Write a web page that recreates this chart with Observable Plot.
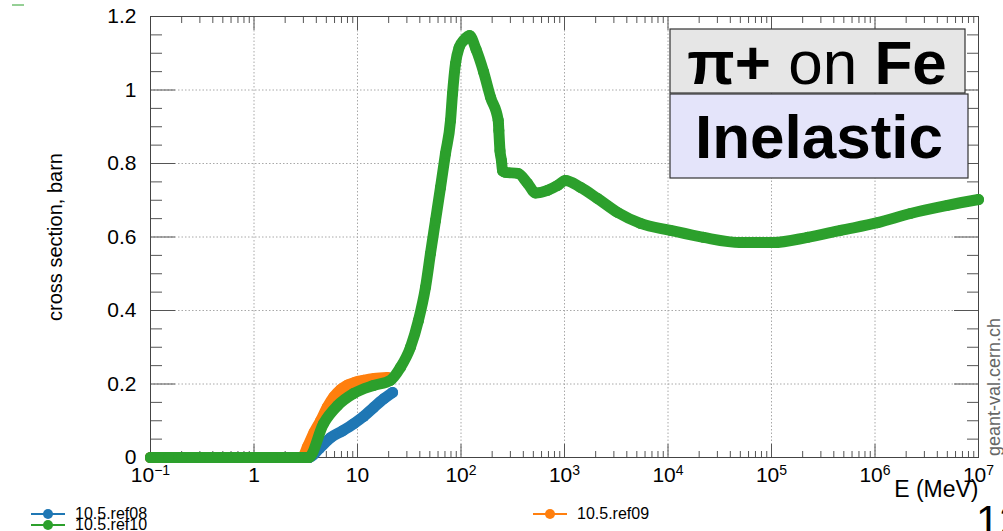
<!DOCTYPE html>
<html><head><meta charset="utf-8">
<script src="https://cdn.jsdelivr.net/npm/d3@7"></script>
<script src="https://cdn.jsdelivr.net/npm/@observablehq/plot@0.6"></script>
<style>
html,body{margin:0;padding:0;background:#fff;overflow:hidden;}
svg text{font-family:"Liberation Sans",Arial,Helvetica,sans-serif;}
</style></head><body><div id="chart"></div>
<script>
// ---- data (energy in MeV, cross section in barn) ----
const ref08E = [0.1,0.15,0.2,0.3,0.5,0.7,1,1.5,2,2.5,3,3.4,4.3,5.5,7.2,9.2,11.5,14.3,18,21.8];
const ref08Y = [0,0,0,0,0,0,0,0,0,0,0,0,0.025,0.054,0.073,0.092,0.112,0.136,0.16,0.177];

const ref09E = [0.1,0.15,0.2,0.3,0.5,0.7,1,1.5,2,2.5,2.9,3.3,3.8,4.4,5.1,5.9,6.9,8.0,9.5,11.4,14.5,19.5];
const ref09Y = [0,0,0,0,0,0,0,0,0,0,0,0.03,0.068,0.1,0.137,0.165,0.185,0.197,0.205,0.21,0.215,0.218];

const ref10E = [0.1,0.15,0.2,0.3,0.5,0.7,1,1.5,2,2.5,3,3.37,4.69,6.41,9.15,14.3,20.8,26,32.5,38.8,45.4,50.7,56.7,63.4,70.8,79.2,82.8,88.5,96,106,121,140,165,193,229,232,238,246,252,269,355,440,525,686,855,1020,1430,2080,3250,5420,10570,22000,50100,104000,223000,464000,1.06e6,2.2e6,5.0e6,1e7];
const ref10Y = [0,0,0,0,0,0,0,0,0,0,0,0,0.092,0.141,0.174,0.196,0.21,0.245,0.30,0.373,0.463,0.555,0.645,0.735,0.827,0.917,0.99,1.072,1.116,1.135,1.148,1.11,1.05,0.98,0.917,0.89,0.835,0.808,0.78,0.776,0.773,0.746,0.72,0.727,0.74,0.754,0.735,0.705,0.667,0.637,0.618,0.599,0.585,0.585,0.599,0.618,0.639,0.664,0.686,0.702];

const seriesNames = ["10.5.ref08","10.5.ref09","10.5.ref10"];
const seriesColors = ["#1f77b4","#ff7f0e","#2ca02c"];

const xMajor = [1e-1,1,10,1e2,1e3,1e4,1e5,1e6,1e7];
const xTickLabels = ["10^-1","1","10","10^2","10^3","10^4","10^5","10^6","10^7"];
const xMinorMult = [2,3,4,5,6,7,8,9];
const yMajor = [0,0.2,0.4,0.6,0.8,1.0,1.2];
const yTickLabels = ["0","0.2","0.4","0.6","0.8","1","1.2"];
const yMinor = [0.05,0.1,0.15,0.25,0.3,0.35,0.45,0.5,0.55,0.65,0.7,0.75,0.85,0.9,0.95,1.05,1.1,1.15];

const xTitle = "E (MeV)";
const yTitle = "cross section, barn";
const boxTitle1 = ["π+", " on ", "Fe"];
const boxTitle2 = "Inelastic";
const watermark = "geant-val.cern.ch";
const pageNo = "12";

// ---- build tables ----
const rows = (E, Y, s) => E.map((e, i) => ({E: e, xs: Y[i], s}));
const d08 = rows(ref08E, ref08Y, seriesNames[0]);
const d09 = rows(ref09E, ref09Y, seriesNames[1]);
const d10 = rows(ref10E, ref10Y, seriesNames[2]);
const xMinor = xMajor.slice(0, -1).flatMap(m => xMinorMult.map(k => k * m));

const tickStroke = "#555";
const gridOpts = {stroke: "#a8a8a8", strokeOpacity: 1, strokeDasharray: "1.5,2"};

function series(d, c) {
  return [
    Plot.line(d, {x: "E", y: "xs", stroke: c, strokeWidth: 11, strokeLinejoin: "round", strokeLinecap: "round", curve: "monotone-x"}),
    Plot.dot(d, {x: "E", y: "xs", r: 5.5, fill: c, stroke: "none"})
  ];
}

const plot = Plot.plot({
  width: 1003, height: 531,
  marginLeft: 150, marginRight: 25, marginTop: 16, marginBottom: 74,
  x: {type: "log", domain: [0.1, 1e7]},
  y: {domain: [0, 1.2]},
  style: {fontFamily: "Liberation Sans, Arial, sans-serif", background: "white", color: "#000"},
  marks: [
    Plot.gridX(xMajor.slice(1, -1), gridOpts),
    Plot.gridY(yMajor.slice(1, -1), gridOpts),
    // inward ticks, bottom & top
    Plot.axisX(xMajor, {anchor: "bottom", tickSize: 13, dy: -13, fill: "none", stroke: tickStroke, label: null}),
    Plot.axisX(xMinor, {anchor: "bottom", tickSize: 6, dy: -6, fill: "none", stroke: tickStroke, label: null}),
    Plot.axisX(xMajor, {anchor: "top", tickSize: 13, dy: 13, fill: "none", stroke: tickStroke, label: null}),
    Plot.axisX(xMinor, {anchor: "top", tickSize: 6, dy: 6, fill: "none", stroke: tickStroke, label: null}),
    // inward ticks, left & right
    Plot.axisY(yMajor, {anchor: "left", tickSize: 25, dx: 25, fill: "none", stroke: tickStroke, label: null}),
    Plot.axisY(yMinor, {anchor: "left", tickSize: 12, dx: 12, fill: "none", stroke: tickStroke, label: null}),
    Plot.axisY(yMajor, {anchor: "right", tickSize: 25, dx: -25, fill: "none", stroke: tickStroke, label: null}),
    Plot.axisY(yMinor, {anchor: "right", tickSize: 12, dx: -12, fill: "none", stroke: tickStroke, label: null}),
    // tick labels
    Plot.axisX(xMajor, {anchor: "bottom", tickSize: 0, tickPadding: 10, fontSize: 21, label: null,
      tickFormat: d => xTickLabels[xMajor.indexOf(d)]}),
    Plot.axisY(yMajor, {anchor: "left", tickSize: 0, tickPadding: 14, fontSize: 21, label: null,
      tickFormat: d => yTickLabels[yMajor.indexOf(d)]}),
    Plot.frame({stroke: "#444"}),
    ...series(d08, seriesColors[0]),
    ...series(d09, seriesColors[1]),
    ...series(d10, seriesColors[2]),
    Plot.text([yTitle], {frameAnchor: "left", dx: -95, rotate: -90, textAnchor: "middle", fontSize: 20, fill: "#000"}),
    Plot.text([xTitle], {frameAnchor: "bottom-right", dx: 0, dy: 39, lineAnchor: "bottom", textAnchor: "end", fontSize: 23, fill: "#000"})
  ]
});

document.getElementById("chart").appendChild(plot);
const svg = d3.select(plot);

// superscripts in x tick labels
svg.selectAll('g[aria-label="x-axis tick label"] text').each(function() {
  const t = this.textContent;
  const parts = t.split("^");
  if (parts.length === 2) {
    const s = d3.select(this);
    s.text(null);
    s.append("tspan").text(parts[0]);
    s.append("tspan").attr("dy", "-0.5em").attr("font-size", "14px").text(parts[1].replace("-", "\u2212"));
  }
});

// annotation boxes
const ann = svg.append("g");
ann.append("rect").attr("x", 670).attr("y", 29).attr("width", 295).attr("height", 64)
  .attr("fill", "#e6e6e6").attr("stroke", "#333").attr("stroke-width", 1.2);
ann.append("rect").attr("x", 670).attr("y", 94).attr("width", 298).attr("height", 84)
  .attr("fill", "#e4e4fa").attr("stroke", "#333").attr("stroke-width", 1.2);
const t1 = ann.append("text").attr("x", 817).attr("y", 84).attr("text-anchor", "middle")
  .attr("font-size", 62).attr("fill", "#000");
t1.append("tspan").attr("font-weight", "bold").text(boxTitle1[0]);
t1.append("tspan").attr("font-weight", "normal").text(boxTitle1[1]);
t1.append("tspan").attr("font-weight", "bold").text(boxTitle1[2]);
ann.append("text").attr("x", 819).attr("y", 158).attr("text-anchor", "middle")
  .attr("font-size", 62).attr("font-weight", "bold").attr("fill", "#000").text(boxTitle2);

// watermark & page number
svg.append("text").attr("transform", "translate(1000,456) rotate(-90)").attr("text-anchor", "start")
  .attr("font-size", 18).attr("fill", "#666").text(watermark);
svg.append("text").attr("x", 976).attr("y", 535).attr("text-anchor", "start")
  .attr("font-size", 42).attr("fill", "#000").text(pageNo);
svg.append("line").attr("x1", 12).attr("x2", 24).attr("y1", 5).attr("y2", 5)
  .attr("stroke", "#2ca02c").attr("stroke-width", 1);

// legend
const leg = svg.append("g");
const legPos = [[31, 514], [533, 514], [31, 525]];
seriesNames.forEach((n, i) => {
  const [x, y] = legPos[i];
  const g = leg.append("g");
  g.append("line").attr("x1", x).attr("x2", x + 34).attr("y1", y).attr("y2", y)
    .attr("stroke", seriesColors[i]).attr("stroke-width", 2);
  g.append("circle").attr("cx", x + 17).attr("cy", y).attr("r", 5).attr("fill", seriesColors[i]);
  g.append("text").attr("x", x + 44).attr("y", y + 5).attr("text-anchor", "start")
    .attr("font-size", 16).attr("fill", "#000").text(n);
});
</script></body></html>
